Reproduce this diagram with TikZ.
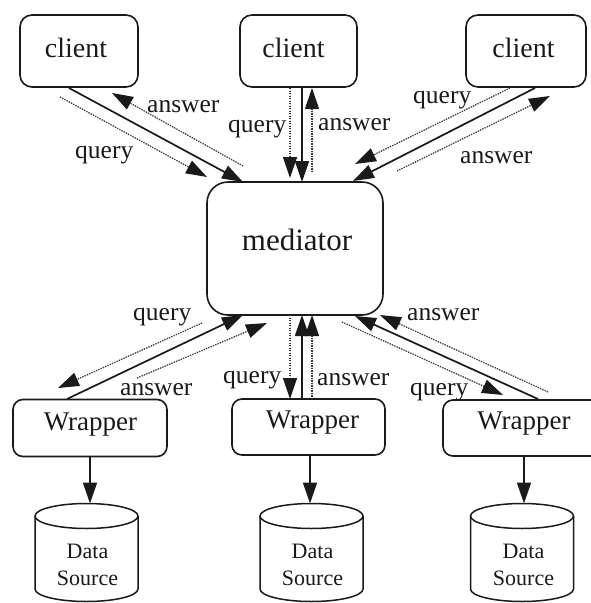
\documentclass[tikz,border=0pt]{standalone}
\usepackage{fontspec}
\setmainfont{Liberation Serif}
\usetikzlibrary{arrows.meta}
\definecolor{ink}{HTML}{1A1A1A}
\begin{document}
\begin{tikzpicture}[x=1pt,y=-1pt,
  box/.style={draw=ink,line width=1.6pt,inner sep=0pt},
  clientbox/.style={box,rounded corners=12pt,minimum width=118pt,minimum height=72pt},
  wrapbox/.style={box,rounded corners=10pt,minimum height=57pt},
  boxtext/.style={anchor=base,inner sep=0pt,text=ink},
  lbl/.style={anchor=base west,inner sep=0pt,text=ink,font=\fontsize{25.5}{30}\selectfont},
  tip/.style={-{Triangle[length=21pt,width=14pt,color=ink]}},
  req/.style={tip,draw=ink,fill=ink,line width=1.7pt},
  msg/.style={tip,draw=ink!85,fill=ink,line width=1.3pt,dash pattern=on 1.2pt off 1.3pt},
  drum/.style={draw=ink,line width=1.5pt}]

\useasboundingbox[fill=white] (0,0) rectangle (590,603);

% clients
\node[clientbox] (c1) at (79,51) {};
\node[clientbox,minimum width=117pt] (c2) at (298.5,51) {};
\node[clientbox,minimum width=120pt] (c3) at (526,51) {};
\node[boxtext,font=\fontsize{28}{32}\selectfont] (t1) at (76,57) {client};
\node[boxtext,font=\fontsize{28}{32}\selectfont] (t2) at (293.5,57) {client};
\node[boxtext,font=\fontsize{28}{32}\selectfont] (t3) at (523.5,57) {client};

% mediator
\node[box,rounded corners=21pt,minimum width=176pt,minimum height=133pt] (med) at (295,248.5) {};
\node[boxtext,font=\fontsize{31}{36}\selectfont] (tm) at (297,250) {mediator};

% wrappers
\node[wrapbox,minimum width=154pt] (w1) at (90,428) {};
\node[wrapbox,minimum width=153pt,minimum height=56pt] (w2) at (308.5,427) {};
\node[wrapbox,minimum width=162pt,minimum height=56pt] (w3) at (524,428) {};
\node[boxtext,font=\fontsize{27}{32}\selectfont] (tw1) at (90.5,430) {Wrapper};
\node[boxtext,font=\fontsize{27}{32}\selectfont] (tw2) at (312.5,428) {Wrapper};
\node[boxtext,font=\fontsize{27}{32}\selectfont] (tw3) at (524,429) {Wrapper};

% data sources (cylinders)
\foreach \cx/\n/\tx in {86.5/1/87.5, 311.5/2/312.5, 522/3/523.5}{
  \draw[drum] (\cx,516) ellipse [x radius=51.5pt,y radius=12.5pt];
  \draw[drum] (\cx-51.5,516) -- (\cx-51.5,589)
    arc[start angle=180,end angle=360,x radius=51.5pt,y radius=12.5pt]
    -- (\cx+51.5,516);
  \coordinate (d\n) at (\cx,503.5);
  \node[boxtext,font=\fontsize{22}{27}\selectfont] (dd\n) at (\tx,558) {Data};
  \node[boxtext,font=\fontsize{22}{27}\selectfont] (ds\n) at (\tx,585) {Source};
}
\draw[req] (w1) -- (w1 |- d1);
\draw[req] (w2.south -| 310,455) -- (310,503.5);
\draw[req] (w3) -- (w3 |- d3);

% client 1 <-> mediator
\coordinate (a1) at (69,88);   \coordinate (b1) at (243,182);
\coordinate (a2) at (60,97);   \coordinate (b2) at (207,177);
\coordinate (a3) at (243,166); \coordinate (b3) at (112,93);
\draw[req] (a1) -- (b1);
\draw[msg] (a2) -- (b2);
\draw[msg] (a3) -- (b3);
\node[lbl] (l1) at (147,112) {answer};
\node[lbl] (l2) at (75,158) {query};

% client 2 <-> mediator
\coordinate (a4) at (290,88);  \coordinate (b4) at (290,178);
\coordinate (a5) at (302,88);  \coordinate (b5) at (302,182);
\coordinate (a6) at (312,172); \coordinate (b6) at (312,88);
\draw[msg] (a4) -- (b4);
\draw[req] (a5) -- (b5);
\draw[msg] (a6) -- (b6);
\node[lbl] (l3) at (228,132) {query};
\node[lbl] (l4) at (318,130) {answer};

% client 3 <-> mediator
\coordinate (a7) at (535,88);  \coordinate (b7) at (353,181);
\coordinate (a8) at (510,88);  \coordinate (b8) at (355,164);
\coordinate (a9) at (397,171); \coordinate (b9) at (550,96);
\draw[req] (a7) -- (b7);
\draw[msg] (a8) -- (b8);
\draw[msg] (a9) -- (b9);
\node[lbl] (l5) at (413,103) {query};
\node[lbl] (l6) at (460,163) {answer};

% wrapper 1 <-> mediator
\coordinate (e1) at (67,399);  \coordinate (f1) at (243,315);
\coordinate (e2) at (202,323); \coordinate (f2) at (58,388);
\coordinate (e3) at (137,378); \coordinate (f3) at (267,323);
\draw[req] (e1) -- (f1);
\draw[msg] (e2) -- (f2);
\draw[msg] (e3) -- (f3);
\node[lbl] (l7) at (133,320) {query};
\node[lbl] (l8) at (120,395) {answer};

% wrapper 2 <-> mediator
\coordinate (e4) at (290,315); \coordinate (f4) at (290,399);
\coordinate (e5) at (302,399); \coordinate (f5) at (302,315);
\coordinate (e6) at (312,399); \coordinate (f6) at (312,315);
\draw[msg] (e4) -- (f4);
\draw[req] (e5) -- (f5);
\draw[msg] (e6) -- (f6);
\node[lbl] (l9) at (223,383) {query};
\node[lbl] (l10) at (317,385) {answer};

% wrapper 3 <-> mediator
\coordinate (e7) at (538,399); \coordinate (f7) at (355,316);
\coordinate (e8) at (548,392); \coordinate (f8) at (380,315);
\coordinate (e9) at (342,322); \coordinate (f9) at (503,395);
\draw[req] (e7) -- (f7);
\draw[msg] (e8) -- (f8);
\draw[msg] (e9) -- (f9);
\node[lbl] (l11) at (407,320) {answer};
\node[lbl] (l12) at (410,395) {query};
\end{tikzpicture}
\end{document}
